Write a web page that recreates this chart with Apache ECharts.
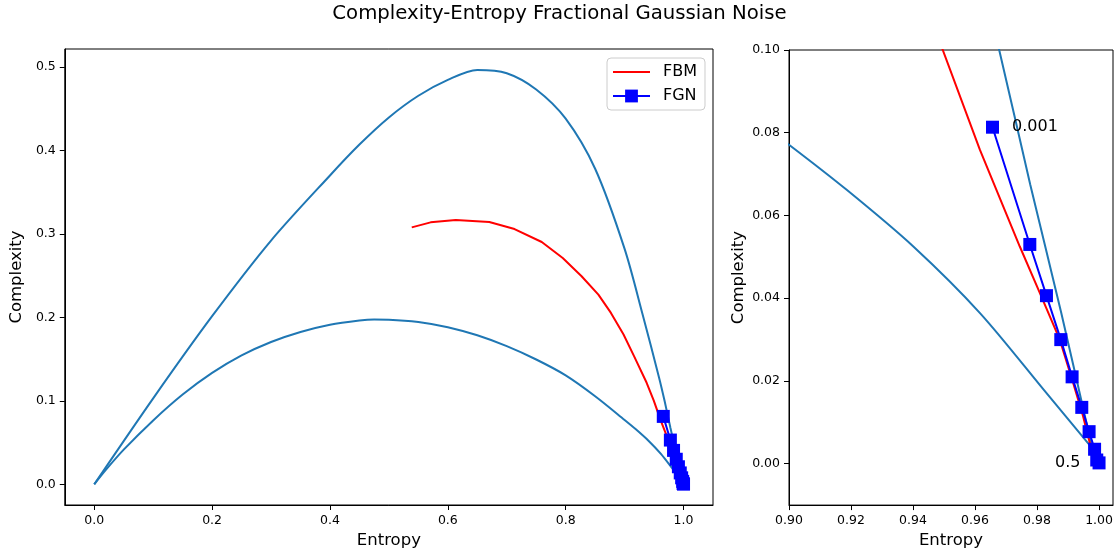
<!DOCTYPE html>
<html>
<head>
<meta charset="utf-8">
<script src="https://cdn.jsdelivr.net/npm/echarts@6/dist/echarts.min.js"></script>
<style>
html,body{margin:0;padding:0;background:#fff;}
#chart{width:1119px;height:554px;}
</style>
</head>
<body>
<div id="chart"></div>
<script>
// ---- Data ----
const upperH = [0, 0.1, 0.2, 0.3, 0.4, 0.45, 0.5, 0.55, 0.6, 0.65, 0.7, 0.75, 0.8, 0.85, 0.9, 0.93, 0.9584, 0.9678, 0.9778, 0.9878, 0.9975];
const upperC = [0, 0.103, 0.2014, 0.292, 0.37, 0.407, 0.4395, 0.4655, 0.4845, 0.4964, 0.4925, 0.473, 0.438, 0.378, 0.282, 0.205, 0.128, 0.1, 0.0675, 0.0365, 0.0047];

const lowerH = [0, 0.02, 0.05, 0.1, 0.15, 0.2, 0.25, 0.3, 0.35, 0.4, 0.45, 0.475, 0.5, 0.55, 0.6, 0.65, 0.7, 0.75, 0.8, 0.85, 0.9, 0.9186, 0.9401, 0.9616, 0.983, 0.9975];
const lowerC = [0, 0.0175, 0.0415, 0.0765, 0.1075, 0.1334, 0.1544, 0.1705, 0.1825, 0.1912, 0.1962, 0.1974, 0.1972, 0.1945, 0.1882, 0.1785, 0.1655, 0.1495, 0.1305, 0.1055, 0.0771, 0.0662, 0.0525, 0.0364, 0.0171, 0.004];

const fbmH = [0.5388, 0.5708, 0.6135, 0.6704, 0.7132, 0.7594, 0.795, 0.827, 0.8555, 0.8768, 0.8982, 0.916, 0.9374, 0.9495, 0.96155, 0.97444, 0.98089, 0.98733, 0.99163, 0.99485, 0.99753, 0.9992];
const fbmC = [0.3078, 0.3138, 0.3166, 0.3142, 0.3058, 0.2903, 0.2711, 0.2492, 0.2273, 0.2053, 0.1794, 0.1535, 0.1216, 0.1002, 0.0759, 0.0525, 0.0413, 0.03, 0.0196, 0.0115, 0.0035, 0.0008];

const fgnH = [0.96564, 0.97767, 0.98304, 0.98766, 0.99131, 0.99443, 0.99679, 0.99856, 0.99926, 1.0];
const fgnC = [0.08134, 0.053, 0.04062, 0.03, 0.021, 0.01362, 0.00775, 0.0035, 0.0009, 0.0002];
const fgnLabels = ['0.001', '', '', '', '', '', '', '', '', '0.5'];

const leftXTicks = [0, 0.2, 0.4, 0.6, 0.8, 1.0];
const leftYTicks = [0, 0.1, 0.2, 0.3, 0.4, 0.5];
const rightXTicks = [0.90, 0.92, 0.94, 0.96, 0.98, 1.00];
const rightYTicks = [0.00, 0.02, 0.04, 0.06, 0.08, 0.10];

const titleText = 'Complexity-Entropy Fractional Gaussian Noise';
const xName = 'Entropy';
const yName = 'Complexity';
const legendNames = ['FBM', 'FGN'];
// ----------------------------------------------

function zip(a, b) { return a.map((v, i) => [v, b[i]]); }

const FONT = 'DejaVu Sans';
const TEAL = '#1f77b4';

function makeAxis(gridIndex, min, max, ticks, digits, isX, nameGap) {
  return {
    type: 'value', gridIndex, min, max, scale: true,
    name: isX ? xName : yName,
    nameLocation: 'middle', nameGap,
    nameTextStyle: { fontFamily: FONT, fontSize: 16.5, color: '#000' },
    axisLine: { show: true, onZero: false, lineStyle: { color: '#000', width: 1 } },
    axisTick: { show: true, customValues: ticks, length: 5, lineStyle: { color: '#000', width: 1 } },
    axisLabel: { show: true, customValues: ticks, margin: 9,
      fontFamily: FONT, fontSize: 12.5, color: '#000',
      formatter: v => Number(v).toFixed(digits) },
    splitLine: { show: false }
  };
}

function seriesSet(idx, withLabels) {
  const lw = 2;
  return [
    { name: 'upper', type: 'line', xAxisIndex: idx, yAxisIndex: idx, data: zip(upperH, upperC),
      symbol: 'none', smooth: 0.3, lineStyle: { color: TEAL, width: lw }, itemStyle: { color: TEAL }, z: 2 },
    { name: 'lower', type: 'line', xAxisIndex: idx, yAxisIndex: idx, data: zip(lowerH, lowerC),
      symbol: 'none', smooth: 0.3, lineStyle: { color: TEAL, width: lw }, itemStyle: { color: TEAL }, z: 2 },
    { name: legendNames[0], type: 'line', xAxisIndex: idx, yAxisIndex: idx, data: zip(fbmH, fbmC),
      symbol: 'none', lineStyle: { color: '#ff0000', width: lw }, itemStyle: { color: '#ff0000' }, z: 3 },
    { name: legendNames[1], type: 'line', xAxisIndex: idx, yAxisIndex: idx,
      data: fgnH.map((h, i) => {
        const d = { value: [h, fgnC[i]] };
        if (withLabels && fgnLabels[i]) {
          const first = i === 0;
          d.label = { show: true, formatter: fgnLabels[i], position: first ? 'right' : 'left',
            distance: first ? 13 : 12, fontFamily: FONT, fontSize: 16, color: '#000' };
        }
        return d;
      }),
      symbol: 'rect', symbolSize: 13, showAllSymbol: true,
      lineStyle: { color: '#0000ff', width: lw }, itemStyle: { color: '#0000ff' }, z: 4 }
  ];
}

const chart = echarts.init(document.getElementById('chart'), null, { renderer: 'canvas' });
chart.setOption({
  animation: false,
  backgroundColor: '#fff',
  title: { text: titleText, left: 'center', top: 4, padding: [0, 0, 0, 6],
    textStyle: { fontFamily: FONT, fontSize: 19.7, fontWeight: 'normal', color: '#000' } },
  legend: {
    data: [
      { name: legendNames[0], icon: 'path://M0,0L37,0L37,2L0,2Z' },
      { name: legendNames[1] }
    ],
    orient: 'vertical', left: 607, top: 58,
    itemWidth: 37, itemHeight: 16, itemGap: 8,
    padding: [6, 8, 6, 5],
    backgroundColor: '#fff', borderColor: '#cccccc', borderWidth: 1, borderRadius: 4,
    textStyle: { fontFamily: FONT, fontSize: 16, color: '#000', padding: [0, 0, 0, 8] }
  },
  grid: [
    { left: 62, top: 49, width: 651, height: 456, show: true, borderColor: '#000', borderWidth: 1 },
    { left: 789, top: 50, width: 324, height: 456, show: true, borderColor: '#000', borderWidth: 1 }
  ],
  xAxis: [
    makeAxis(0, -0.05, 1.05, leftXTicks, 1, true, 26),
    makeAxis(1, 0.9, 1.0045, rightXTicks, 2, true, 26)
  ],
  yAxis: [
    makeAxis(0, -0.0248, 0.5215, leftYTicks, 1, false, 35),
    makeAxis(1, -0.01, 0.10, rightYTicks, 2, false, 42)
  ],
  series: [...seriesSet(0, false), ...seriesSet(1, true)]
});
</script>
</body>
</html>
